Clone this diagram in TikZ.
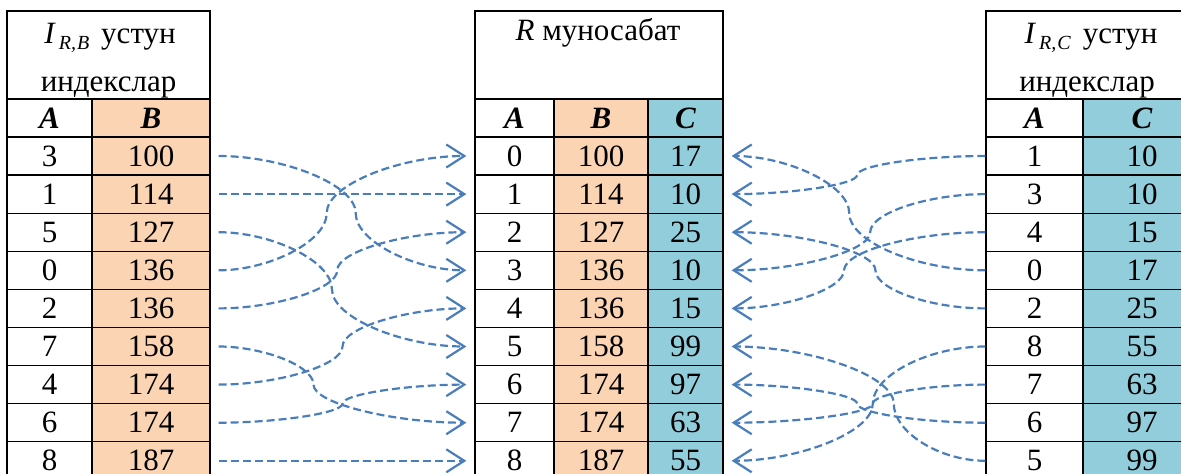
\documentclass[tikz,border=0pt]{standalone}
\usepackage{fontspec}
\setmainfont{Liberation Serif}
\usetikzlibrary{calc,arrows.meta}
\definecolor{peach}{RGB}{251,212,180}
\definecolor{aqua}{RGB}{146,205,220}
\definecolor{ptrblue}{RGB}{74,126,187}
\newcommand\colidx[1]{\textit{I}\kern3pt\raisebox{-6pt}{\fontsize{20}{20}\selectfont\textit{#1}}}
\tikzset{
	cell/.style={draw, line width=1.3pt, inner sep=0pt, minimum height=38.1pt, font=\fontsize{31}{36}\selectfont},
	hfont/.style={font=\fontsize{31}{36}\selectfont\bfseries\itshape},
	la/.style={cell, minimum width=85pt},
	lb/.style={cell, minimum width=118pt, fill=peach},
	ma/.style={cell, minimum width=79pt},
	mb/.style={cell, minimum width=94pt, fill=peach},
	mc/.style={cell, minimum width=75pt, fill=aqua},
	ra/.style={cell, minimum width=97pt},
	rc/.style={cell, minimum width=118pt, fill=aqua},
	headbox/.style={draw, line width=1.3pt, inner sep=0pt, minimum height=88pt},
	headtxt/.style={anchor=base, inner sep=0pt, font=\fontsize{31}{36}\selectfont},
	ptr/.style={draw=ptrblue, line width=2.2pt, dash pattern=on 8pt off 4pt,
		-{Straight Barb[length=18pt,width=23pt]}, shorten >=8pt,
		to path={let \p1=(\tikztostart), \p2=(\tikztotarget), \p3=($(\tikztostart)!#1!(\tikztotarget)$) in
			.. controls ({(\x1+\x3)/2},\y1) and (\x3,{(3*\y1+\y2)/4}) .. (\x3,{(\y1+\y2)/2})
			.. controls (\x3,{(\y1+3*\y2)/4}) and ({(\x3+\x2)/2},\y2) .. (\tikztotarget) \tikztonodes}},
	lptr/.style={ptr=#1, shorten <=8pt}
}
\begin{document}
\begin{tikzpicture}[x=1pt, y=-1pt]
				\useasboundingbox (0,0) rectangle (1181,474);
				\clip (0,0) rectangle (1181,474);

				% I_{R,B} index
				\node[headbox, minimum width=203pt] (lhd) at (108.5,55) {};
				\node[headtxt] (lhd1) at (110,43) {\colidx{R,\kern1pt B}\hspace{12pt}устун};
				\node[headtxt] (lhd2) at (108.5,91) {индекслар};
				\node[la, hfont] (lAh) at (49.5,118) {A};
				\node[lb, hfont] (lBh) at (151,118) {B};
				\node[la] (lA1) at (49.5,156) {3};
				\node[lb] (lB1) at (151,156) {100};
				\node[la] (lA2) at (49.5,194.1) {1};
				\node[lb] (lB2) at (151,194.1) {114};
				\node[la] (lA3) at (49.5,232.2) {5};
				\node[lb] (lB3) at (151,232.2) {127};
				\node[la] (lA4) at (49.5,270.3) {0};
				\node[lb] (lB4) at (151,270.3) {136};
				\node[la] (lA5) at (49.5,308.4) {2};
				\node[lb] (lB5) at (151,308.4) {136};
				\node[la] (lA6) at (49.5,346.5) {7};
				\node[lb] (lB6) at (151,346.5) {158};
				\node[la] (lA7) at (49.5,384.6) {4};
				\node[lb] (lB7) at (151,384.6) {174};
				\node[la] (lA8) at (49.5,422.7) {6};
				\node[lb] (lB8) at (151,422.7) {174};
				\node[la] (lA9) at (49.5,460.8) {8};
				\node[lb] (lB9) at (151,460.8) {187};

				% R relation
				\node[headbox, minimum width=248pt] (mhd) at (599,55) {};
				\node[headtxt] (mhd1) at (598,40) {\textit{R} муносабат};
				\node[ma, hfont] (mAh) at (514.5,118) {A};
				\node[mb, hfont] (mBh) at (601,118) {B};
				\node[mc, hfont] (mCh) at (685.5,118) {C};
				\node[ma] (mA1) at (514.5,156) {0};
				\node[mb] (mB1) at (601,156) {100};
				\node[mc] (mC1) at (685.5,156) {17};
				\node[ma] (mA2) at (514.5,194.1) {1};
				\node[mb] (mB2) at (601,194.1) {114};
				\node[mc] (mC2) at (685.5,194.1) {10};
				\node[ma] (mA3) at (514.5,232.2) {2};
				\node[mb] (mB3) at (601,232.2) {127};
				\node[mc] (mC3) at (685.5,232.2) {25};
				\node[ma] (mA4) at (514.5,270.3) {3};
				\node[mb] (mB4) at (601,270.3) {136};
				\node[mc] (mC4) at (685.5,270.3) {10};
				\node[ma] (mA5) at (514.5,308.4) {4};
				\node[mb] (mB5) at (601,308.4) {136};
				\node[mc] (mC5) at (685.5,308.4) {15};
				\node[ma] (mA6) at (514.5,346.5) {5};
				\node[mb] (mB6) at (601,346.5) {158};
				\node[mc] (mC6) at (685.5,346.5) {99};
				\node[ma] (mA7) at (514.5,384.6) {6};
				\node[mb] (mB7) at (601,384.6) {174};
				\node[mc] (mC7) at (685.5,384.6) {97};
				\node[ma] (mA8) at (514.5,422.7) {7};
				\node[mb] (mB8) at (601,422.7) {174};
				\node[mc] (mC8) at (685.5,422.7) {63};
				\node[ma] (mA9) at (514.5,460.8) {8};
				\node[mb] (mB9) at (601,460.8) {187};
				\node[mc] (mC9) at (685.5,460.8) {55};

				% I_{R,C} index
				\node[headbox, minimum width=215pt] (rhd) at (1093.5,55) {};
				\node[headtxt] (rhd1) at (1091,43) {\colidx{R,\kern1pt C}\hspace{12pt}устун};
				\node[headtxt] (rhd2) at (1087,91) {индекслар};
				\node[ra, hfont] (rAh) at (1034.5,118) {A};
				\node[rc, hfont] (rCh) at (1142,118) {C};
				\node[ra] (rA1) at (1034.5,156) {1};
				\node[rc] (rC1) at (1142,156) {10};
				\node[ra] (rA2) at (1034.5,194.1) {3};
				\node[rc] (rC2) at (1142,194.1) {10};
				\node[ra] (rA3) at (1034.5,232.2) {4};
				\node[rc] (rC3) at (1142,232.2) {15};
				\node[ra] (rA4) at (1034.5,270.3) {0};
				\node[rc] (rC4) at (1142,270.3) {17};
				\node[ra] (rA5) at (1034.5,308.4) {2};
				\node[rc] (rC5) at (1142,308.4) {25};
				\node[ra] (rA6) at (1034.5,346.5) {8};
				\node[rc] (rC6) at (1142,346.5) {55};
				\node[ra] (rA7) at (1034.5,384.6) {7};
				\node[rc] (rC7) at (1142,384.6) {63};
				\node[ra] (rA8) at (1034.5,422.7) {6};
				\node[rc] (rC8) at (1142,422.7) {97};
				\node[ra] (rA9) at (1034.5,460.8) {5};
				\node[rc] (rC9) at (1142,460.8) {99};

				% B pointers
				\draw[lptr=0.55] (lB1.east) to (mA4.west);
				\draw[lptr=0.5] (lB2.east) to (mA2.west);
				\draw[lptr=0.46] (lB3.east) to (mA6.west);
				\draw[lptr=0.44] (lB4.east) to (mA1.west);
				\draw[lptr=0.48] (lB5.east) to (mA3.west);
				\draw[lptr=0.39] (lB6.east) to (mA8.west);
				\draw[lptr=0.5] (lB7.east) to (mA5.west);
				\draw[lptr=0.5] (lB8.east) to (mA7.west);
				\draw[lptr=0.5] (lB9.east) to (mA9.west);

				% C pointers
				\draw[ptr=0.49] (rA1.west) to (mC2.east);
				\draw[ptr=0.44] (rA2.west) to (mC4.east);
				\draw[ptr=0.54] (rA3.west) to (mC5.east);
				\draw[ptr=0.52] (rA4.west) to (mC1.east);
				\draw[ptr=0.42] (rA5.west) to (mC3.east);
				\draw[ptr=0.43] (rA6.west) to (mC9.east);
				\draw[ptr=0.43] (rA7.west) to (mC8.east);
				\draw[ptr=0.49] (rA8.west) to (mC7.east);
				\draw[ptr=0.35] (rA9.west) to (mC6.east);
\end{tikzpicture}
\end{document}
